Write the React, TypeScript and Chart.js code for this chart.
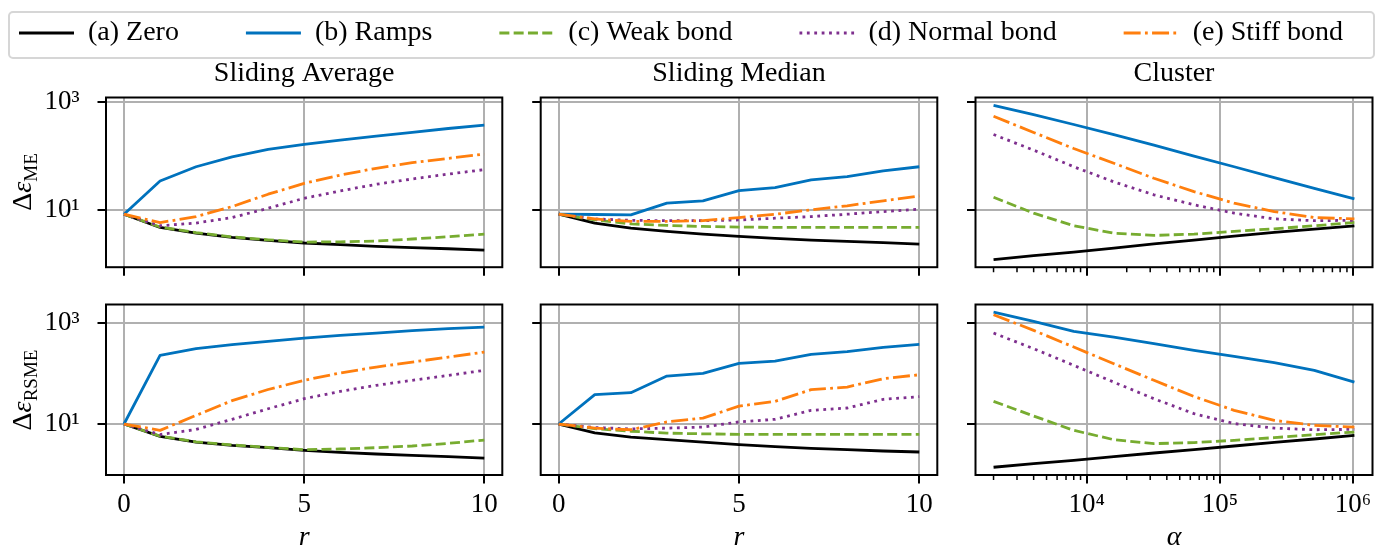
import React, { useEffect, useRef } from 'react';
import { Chart, registerables } from 'chart.js';

Chart.register(...registerables);

const FONT = "'Liberation Serif', 'Times New Roman', serif";
Chart.defaults.font.family = FONT;
Chart.defaults.color = '#000';

// ---------------- data ----------------
const R = [0, 1, 2, 3, 4, 5, 6, 7, 8, 9, 10];
const ALPHA = [2000, 4000, 8000, 16000, 32000, 64000, 128000, 256000, 512000, 1024000];

const SERIES_NAMES = ['(a) Zero', '(b) Ramps', '(c) Weak bond', '(d) Normal bond', '(e) Stiff bond'];
const PANEL_TITLES = ['Sliding Average', 'Sliding Median', 'Cluster'];
const X_TITLES = ['r', 'r', 'α'];
const Y_LABEL_SUBS = ['ME', 'RSME'];

const R_TICKS = [0, 5, 10];
const R_TICK_LABELS = ['0', '5', '10'];
const ALPHA_TICKS = [1e4, 1e5, 1e6];
const ALPHA_TICK_LABELS = ['10⁴', '10⁵', '10⁶'];
const ALPHA_MINOR = [2000, 3000, 4000, 5000, 6000, 7000, 8000, 9000, 20000, 30000, 40000, 50000, 60000, 70000, 80000, 90000, 200000, 300000, 400000, 500000, 600000, 700000, 800000, 900000];
const Y_TICKS = [10, 1000];
const Y_TICK_LABELS = ['10¹', '10³'];

const R_LIMITS = [-0.5, 10.5];
const ALPHA_LIMITS = [1464, 1.4e6];
const Y_LIMITS = [[0.865, 1210], [0.985, 2290]];

// Sliding Average - ME
const SA_ME_ZERO = [8.3, 4.72, 3.7, 3.08, 2.71, 2.43, 2.26, 2.1, 1.99, 1.9, 1.8];
const SA_ME_RAMPS = [8.3, 34.3, 63, 96, 132, 163, 196, 232, 272, 322, 372];
const SA_ME_WEAK = [8.3, 4.8, 3.8, 3.15, 2.78, 2.53, 2.55, 2.65, 2.88, 3.17, 3.55];
const SA_ME_NORMAL = [8.3, 5.07, 5.7, 7.2, 10.7, 16.4, 22.4, 29.8, 37.3, 46, 55.6];
const SA_ME_STIFF = [8.3, 5.8, 7.5, 11.5, 19.5, 31, 44, 59, 75, 90, 108];
// Sliding Median - ME
const SM_ME_ZERO = [8.3, 5.7, 4.6, 3.98, 3.55, 3.22, 2.96, 2.75, 2.6, 2.46, 2.32];
const SM_ME_RAMPS = [8.3, 8.2, 8.1, 13.3, 14.7, 22.7, 25.8, 35.8, 41.2, 53, 63];
const SM_ME_WEAK = [8.3, 6.5, 5.5, 5.15, 4.92, 4.8, 4.72, 4.72, 4.72, 4.72, 4.72];
const SM_ME_NORMAL = [8.3, 6.8, 6.4, 6.3, 6.3, 6.5, 7.0, 7.5, 8.3, 9.3, 10.3];
const SM_ME_STIFF = [8.3, 6.8, 6.1, 6.1, 6.3, 7.2, 8.3, 10, 11.9, 14.7, 18.1];
// Cluster - ME
const CL_ME_ZERO = [1.19, 1.42, 1.65, 1.96, 2.35, 2.75, 3.26, 3.82, 4.4, 5.07];
const CL_ME_RAMPS = [867, 583, 382, 249, 158, 99, 63, 39.5, 25, 16];
const CL_ME_WEAK = [17.1, 8.7, 5.07, 3.7, 3.36, 3.55, 4.0, 4.46, 5.07, 5.84];
const CL_ME_NORMAL = [249, 128, 63, 33, 19, 12.4, 8.7, 6.8, 6.3, 6.4];
const CL_ME_STIFF = [543, 272, 137, 73, 38.5, 21.8, 13.3, 9.3, 7.2, 6.8];
// Sliding Average - RSME
const SA_RS_ZERO = [10, 5.7, 4.4, 3.8, 3.41, 3.02, 2.76, 2.56, 2.41, 2.27, 2.13];
const SA_RS_RAMPS = [10, 226, 307, 368, 428, 498, 562, 625, 695, 762, 821];
const SA_RS_WEAK = [10, 5.75, 4.45, 3.85, 3.45, 3.11, 3.21, 3.41, 3.68, 4.15, 4.83];
const SA_RS_NORMAL = [10, 6.2, 7.8, 12.4, 20, 31.6, 44, 58, 73, 91, 115];
const SA_RS_STIFF = [10, 7.5, 14.8, 29, 48, 73, 102, 133, 167, 210, 263];
// Sliding Median - RSME
const SM_RS_ZERO = [10, 6.7, 5.5, 4.9, 4.4, 3.91, 3.57, 3.31, 3.11, 2.93, 2.8];
const SM_RS_RAMPS = [10, 38, 41.5, 88.5, 100, 157, 175, 237, 268, 326, 373];
const SM_RS_WEAK = [10, 8.1, 7.2, 6.6, 6.4, 6.25, 6.25, 6.25, 6.25, 6.25, 6.25];
const SM_RS_NORMAL = [10, 8.5, 8.0, 8.3, 8.7, 11, 12.4, 18.6, 20.7, 30.7, 34.7];
const SM_RS_STIFF = [10, 8.3, 7.7, 11, 13.1, 22.6, 28, 47.6, 53.7, 78.5, 94];
// Cluster - RSME
const CL_RS_ZERO = [1.4, 1.65, 1.92, 2.27, 2.68, 3.11, 3.68, 4.35, 5.06, 5.97];
const CL_RS_RAMPS = [1622, 1062, 674, 521, 385, 285, 217, 163, 115, 67];
const CL_RS_WEAK = [28, 14.4, 7.5, 4.9, 4.1, 4.3, 4.77, 5.38, 6.16, 6.95];
const CL_RS_NORMAL = [625, 307, 144, 67, 31.6, 16, 10.2, 8.3, 7.7, 7.85];
const CL_RS_STIFF = [1438, 706, 331, 155, 73, 35, 18.6, 11.8, 9.4, 8.7];

const DATA = [
  [
    [SA_ME_ZERO, SA_ME_RAMPS, SA_ME_WEAK, SA_ME_NORMAL, SA_ME_STIFF],
    [SM_ME_ZERO, SM_ME_RAMPS, SM_ME_WEAK, SM_ME_NORMAL, SM_ME_STIFF],
    [CL_ME_ZERO, CL_ME_RAMPS, CL_ME_WEAK, CL_ME_NORMAL, CL_ME_STIFF],
  ],
  [
    [SA_RS_ZERO, SA_RS_RAMPS, SA_RS_WEAK, SA_RS_NORMAL, SA_RS_STIFF],
    [SM_RS_ZERO, SM_RS_RAMPS, SM_RS_WEAK, SM_RS_NORMAL, SM_RS_STIFF],
    [CL_RS_ZERO, CL_RS_RAMPS, CL_RS_WEAK, CL_RS_NORMAL, CL_RS_STIFF],
  ],
];

// ---------------- styles ----------------
const COLORS = ['#000000', '#0072BD', '#77AC30', '#7E2F8E', '#FF7F0E'];
const DASHES = [[], [], [10, 4.3], [2.8, 4.6], [17, 4.3, 2.8, 4.3]];
const LINE_W = 2.8;
const GRID_COLOR = '#b0b0b0';
const GRID_W = 2;
const SPINE_W = 2;
const TICK_LEN = 8.5;
const TICK_W = 2;
const MINOR_LEN = 5;
const MINOR_W = 1.5;
const TICK_FONT = 27;
const TEXT_FONT = 28;

// ---------------- layout (page px) ----------------
const COL_L = [106, 540.7, 975.5];
const COL_R = [502.3, 937.3, 1372.5];
const ROW_T = [97.5, 304.5];
const ROW_B = [267.2, 475];
const CANVAS_X = [[0, 521], [521, 956], [956, 1384]];
const CANVAS_Y = [[50, 292], [292, 552]];
const Y_AXIS_W = [100, 15, 15];
const X_AXIS_H = [12, 76.5];
const TOP_PAD = 7.2;
const TITLE_PAD_B = 6.7;
const Y_TICK_PAD = 18;
const X_TICK_PAD = 5.3;
const LEGEND_CANVAS = { left: -79, top: -48, width: 1520, height: 200 };
const LEGEND_PAD = 67;
const LEGEND_LINE = 55;
const YLABEL_X = 22.6;

const PANELS = [
  { row: 0, col: 0 }, { row: 0, col: 1 }, { row: 0, col: 2 },
  { row: 1, col: 0 }, { row: 1, col: 1 }, { row: 1, col: 2 },
];

function buildPanel(canvas: HTMLCanvasElement, row: number, col: number) {
  const cluster = col === 2;
  const xs = cluster ? ALPHA : R;
  const series = DATA[row][col];
  const cx = CANVAS_X[col];
  const cy = CANVAS_Y[row];
  const yW = Y_AXIS_W[col];
  const xH = X_AXIS_H[row];
  const padding = {
    left: COL_L[col] - cx[0] - yW,
    right: cx[1] - COL_R[col],
    top: row === 0 ? TOP_PAD : ROW_T[1] - cy[0],
    bottom: cy[1] - ROW_B[row] - xH,
  };
  const xTicks = cluster ? ALPHA_TICKS : R_TICKS;
  const xLabels = cluster ? ALPHA_TICK_LABELS : R_TICK_LABELS;
  const xLim = cluster ? ALPHA_LIMITS : R_LIMITS;

  const datasets = series.map((vals, i) => ({
    label: SERIES_NAMES[i],
    data: vals.map((v, j) => ({ x: xs[j], y: v })),
    borderColor: COLORS[i],
    backgroundColor: COLORS[i],
    borderWidth: LINE_W,
    borderDash: DASHES[i],
    borderCapStyle: 'butt',
    borderJoinStyle: 'round',
    pointRadius: 0,
    pointHoverRadius: 0,
    tension: 0,
    fill: false,
    order: 5 - i,
  }));

  const frame = {
    id: 'frame' + row + col,
    afterDatasetsDraw(chart: any) {
      const { ctx, chartArea: a } = chart;
      ctx.save();
      ctx.setLineDash([]);
      ctx.strokeStyle = '#000';
      if (cluster) {
        const sx = chart.scales.x;
        ctx.lineWidth = MINOR_W;
        ctx.beginPath();
        for (const v of ALPHA_MINOR) {
          const px = sx.getPixelForValue(v);
          ctx.moveTo(px, a.bottom);
          ctx.lineTo(px, a.bottom + MINOR_LEN);
        }
        ctx.stroke();
      }
      ctx.lineWidth = SPINE_W;
      ctx.strokeRect(a.left, a.top, a.right - a.left, a.bottom - a.top);
      ctx.restore();
    },
  };

  const zeroPad = (s: any) => {
    s.paddingLeft = 0; s.paddingRight = 0; s.paddingTop = 0; s.paddingBottom = 0;
  };

  return new Chart(canvas, {
    type: 'line',
    data: { datasets } as any,
    options: {
      responsive: false,
      maintainAspectRatio: false,
      animation: false,
      devicePixelRatio: 1,
      events: [],
      layout: { padding, autoPadding: false } as any,
      plugins: {
        legend: { display: false },
        tooltip: { enabled: false },
        title: row === 0 ? {
          display: true,
          text: PANEL_TITLES[col],
          fullSize: false,
          color: '#000',
          font: { size: TEXT_FONT, family: FONT, weight: 'normal', lineHeight: 1.2 },
          padding: { top: 0, bottom: TITLE_PAD_B },
        } : { display: false },
      },
      scales: {
        x: {
          type: cluster ? 'logarithmic' : 'linear',
          min: xLim[0],
          max: xLim[1],
          afterBuildTicks: (s: any) => { s.ticks = xTicks.map((v) => ({ value: v })); },
          afterFit: (s: any) => { s.height = xH; zeroPad(s); },
          ticks: {
            autoSkip: false,
            maxRotation: 0,
            minRotation: 0,
            padding: X_TICK_PAD,
            color: '#000',
            font: { size: TICK_FONT, family: FONT, lineHeight: 1.2 },
            callback: (_v: any, i: number) => (row === 1 ? xLabels[i] : ''),
          },
          grid: {
            color: GRID_COLOR,
            lineWidth: GRID_W,
            drawTicks: true,
            tickLength: TICK_LEN,
            tickColor: '#000',
            tickWidth: TICK_W,
          },
          border: { display: false },
          title: row === 1 ? {
            display: true,
            text: X_TITLES[col],
            color: '#000',
            font: { size: TEXT_FONT, family: FONT, style: 'italic', lineHeight: 1 },
            padding: { top: 0, bottom: 0 },
          } : { display: false },
        } as any,
        y: {
          type: 'logarithmic',
          min: Y_LIMITS[row][0],
          max: Y_LIMITS[row][1],
          afterBuildTicks: (s: any) => { s.ticks = Y_TICKS.map((v) => ({ value: v })); },
          afterFit: (s: any) => { s.width = yW; zeroPad(s); },
          ticks: {
            autoSkip: false,
            padding: Y_TICK_PAD,
            color: '#000',
            font: { size: TICK_FONT, family: FONT, lineHeight: 1.2 },
            callback: (_v: any, i: number) => (col === 0 ? Y_TICK_LABELS[i] : ''),
          },
          grid: {
            color: GRID_COLOR,
            lineWidth: GRID_W,
            drawTicks: true,
            tickLength: TICK_LEN,
            tickColor: '#000',
            tickWidth: TICK_W,
          },
          border: { display: false },
        } as any,
      },
    } as any,
    plugins: [frame as any],
  });
}

function buildLegend(canvas: HTMLCanvasElement) {
  return new Chart(canvas, {
    type: 'line',
    data: {
      datasets: SERIES_NAMES.map((n, i) => ({
        label: n,
        data: [],
        borderColor: COLORS[i],
        borderDash: DASHES[i],
        borderWidth: LINE_W,
      })),
    } as any,
    options: {
      responsive: false,
      maintainAspectRatio: false,
      animation: false,
      devicePixelRatio: 1,
      events: [],
      layout: { padding: 0, autoPadding: false } as any,
      scales: { x: { type: 'linear', display: false }, y: { display: false } } as any,
      plugins: {
        tooltip: { enabled: false },
        title: { display: false },
        legend: {
          display: true,
          position: 'top',
          align: 'center',
          labels: {
            usePointStyle: true,
            pointStyleWidth: LEGEND_LINE,
            padding: LEGEND_PAD,
            color: '#000',
            font: { size: TEXT_FONT, family: FONT },
            generateLabels: (chart: any) =>
              chart.data.datasets.map((ds: any, i: number) => ({
                text: ds.label,
                fillStyle: 'rgba(0,0,0,0)',
                strokeStyle: ds.borderColor,
                lineWidth: ds.borderWidth,
                lineDash: ds.borderDash,
                lineCap: 'butt',
                pointStyle: 'line',
                hidden: false,
                datasetIndex: i,
                fontColor: '#000',
              })),
          },
        },
      },
    } as any,
  });
}

export default function App() {
  const legendRef = useRef<HTMLCanvasElement | null>(null);
  const refs = useRef<(HTMLCanvasElement | null)[]>([]);

  useEffect(() => {
    const charts: Chart[] = [];
    if (legendRef.current) charts.push(buildLegend(legendRef.current));
    PANELS.forEach((p, k) => {
      const c = refs.current[k];
      if (c) charts.push(buildPanel(c, p.row, p.col));
    });
    return () => charts.forEach((c) => c.destroy());
  }, []);

  const rowCenters = [(ROW_T[0] + ROW_B[0]) / 2, (ROW_T[1] + ROW_B[1]) / 2];

  return (
    <div style={{ position: 'fixed', left: 0, top: 0, width: 1384, height: 552, overflow: 'hidden', background: '#fff' }}>
      <div style={{ position: 'absolute', left: 8, top: 11, width: 1367, height: 48, boxSizing: 'border-box', border: '2px solid #d6d6d6', borderRadius: 5 }} />
      <canvas
        ref={legendRef}
        width={LEGEND_CANVAS.width}
        height={LEGEND_CANVAS.height}
        style={{ position: 'absolute', left: LEGEND_CANVAS.left, top: LEGEND_CANVAS.top, width: LEGEND_CANVAS.width, height: LEGEND_CANVAS.height }}
      />
      {PANELS.map((p, k) => {
        const cx = CANVAS_X[p.col];
        const cy = CANVAS_Y[p.row];
        const w = cx[1] - cx[0];
        const h = cy[1] - cy[0];
        return (
          <canvas
            key={k}
            ref={(el) => { refs.current[k] = el; }}
            width={w}
            height={h}
            style={{ position: 'absolute', left: cx[0], top: cy[0], width: w, height: h }}
          />
        );
      })}
      {rowCenters.map((yc, r) => (
        <div
          key={'yl' + r}
          style={{
            position: 'absolute', left: YLABEL_X, top: yc,
            transform: 'translate(-50%, -50%) rotate(-90deg)',
            whiteSpace: 'nowrap', fontFamily: FONT, fontSize: TEXT_FONT, lineHeight: '28px', color: '#000',
          }}
        >
          Δ<span style={{ fontStyle: 'italic' }}>ε</span>
          <span style={{ fontSize: 19, position: 'relative', top: 6 }}>{Y_LABEL_SUBS[r]}</span>
        </div>
      ))}
    </div>
  );
}
